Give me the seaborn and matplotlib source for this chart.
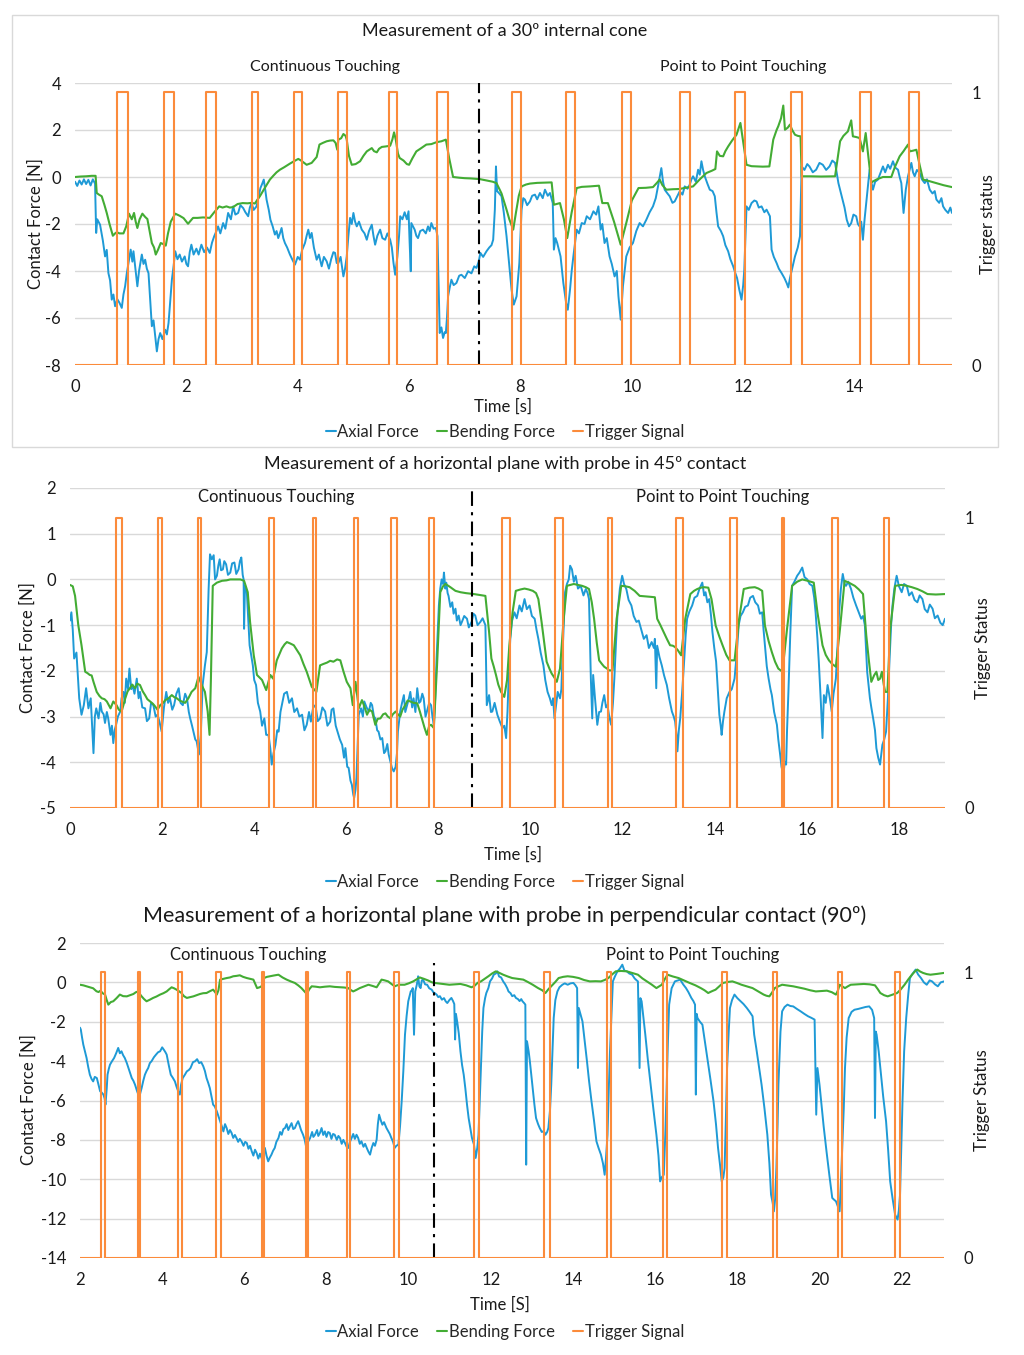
import matplotlib.pyplot as plt
import numpy as np
import seaborn as sns
from matplotlib.lines import Line2D
from matplotlib.patches import Rectangle

sns.set_theme(style='white')
plt.rcParams['font.family'] = ['Lato', 'DejaVu Sans']
plt.rcParams['axes.unicode_minus'] = False

BLUE = '#1e9ad6'
GREEN = '#43ac34'
ORANGE = '#fb8b3b'
GRID = '#d9d9d9'
TEXT = '#1a1a1a'

# ---- Panel 1: 30º internal cone ----
p1_axial = [
    (0.00, -0.20), (0.04, -0.38), (0.08, -0.15), (0.12, -0.32), (0.16, -0.10), (0.20, -0.30),
    (0.24, -0.12), (0.28, -0.36), (0.32, -0.10), (0.36, -0.28), (0.38, -2.38), (0.40, -1.80),
    (0.45, -2.03), (0.50, -2.70), (0.54, -3.38), (0.57, -3.10), (0.60, -4.09), (0.63, -4.40),
    (0.66, -5.22), (0.69, -5.00), (0.72, -5.50), (0.76, -5.20), (0.80, -5.36), (0.84, -5.57),
    (0.87, -5.00), (0.90, -4.65), (0.93, -4.10), (0.96, -3.66), (1.00, -3.09), (1.03, -3.60),
    (1.05, -3.16), (1.08, -3.80), (1.12, -4.65), (1.15, -4.00), (1.20, -3.30), (1.23, -3.70),
    (1.26, -3.52), (1.29, -3.90), (1.32, -4.09), (1.35, -5.20), (1.38, -6.35), (1.41, -6.10),
    (1.44, -6.78), (1.47, -7.42), (1.50, -6.90), (1.53, -6.64), (1.57, -6.90), (1.62, -6.50),
    (1.65, -6.70), (1.68, -6.21), (1.71, -5.30), (1.74, -4.37), (1.77, -3.80), (1.80, -3.16),
    (1.84, -3.50), (1.88, -3.30), (1.92, -3.60), (1.97, -3.38), (2.00, -3.70), (2.03, -3.80),
    (2.06, -3.20), (2.09, -2.88), (2.13, -3.30), (2.18, -3.05), (2.22, -3.30), (2.27, -2.88),
    (2.32, -3.20), (2.37, -3.00), (2.42, -3.23), (2.46, -2.80), (2.50, -2.52), (2.54, -2.30),
    (2.57, -2.10), (2.61, -2.40), (2.66, -1.96), (2.70, -2.20), (2.75, -1.53), (2.80, -1.80),
    (2.84, -1.25), (2.88, -1.60), (2.93, -1.53), (2.97, -1.20), (3.02, -1.32), (3.06, -1.50),
    (3.11, -1.67), (3.14, -1.30), (3.17, -1.11), (3.21, -1.40), (3.26, -1.25), (3.30, -0.80),
    (3.33, -0.47), (3.36, -0.30), (3.39, -0.11), (3.42, -0.60), (3.44, -0.96), (3.48, -1.40),
    (3.51, -1.82), (3.55, -2.10), (3.59, -2.45), (3.62, -2.30), (3.65, -2.60), (3.68, -2.40),
    (3.71, -2.17), (3.74, -2.60), (3.77, -2.81), (3.81, -3.00), (3.86, -3.30), (3.90, -3.50),
    (3.95, -3.73), (4.00, -3.40), (4.04, -3.52), (4.08, -3.10), (4.13, -2.81), (4.16, -2.50),
    (4.19, -2.24), (4.22, -2.60), (4.25, -2.38), (4.29, -3.00), (4.34, -3.52), (4.38, -3.30),
    (4.43, -3.80), (4.47, -3.40), (4.52, -3.59), (4.56, -3.90), (4.60, -3.50), (4.64, -3.20),
    (4.67, -3.23), (4.70, -3.66), (4.73, -3.66), (4.77, -3.40), (4.82, -4.23), (4.85, -3.90),
    (4.88, -3.38), (4.91, -2.50), (4.94, -1.74), (4.97, -2.00), (5.00, -1.53), (5.03, -1.90),
    (5.06, -2.10), (5.10, -1.90), (5.15, -2.24), (5.20, -2.40), (5.24, -2.67), (5.28, -2.30),
    (5.33, -2.03), (5.36, -2.50), (5.39, -2.88), (5.43, -2.50), (5.48, -2.24), (5.52, -2.60),
    (5.57, -2.67), (5.61, -2.40), (5.66, -2.67), (5.69, -3.00), (5.72, -3.66), (5.75, -4.16),
    (5.79, -3.38), (5.82, -2.50), (5.84, -1.67), (5.88, -1.80), (5.92, -1.50), (5.96, -1.80),
    (5.99, -1.46), (6.01, -2.81), (6.03, -4.01), (6.04, -1.96), (6.07, -2.10), (6.10, -2.24),
    (6.13, -2.50), (6.16, -2.60), (6.20, -2.30), (6.25, -2.24), (6.30, -2.40), (6.34, -2.10),
    (6.37, -2.30), (6.40, -1.96), (6.44, -2.20), (6.48, -2.17), (6.51, -2.52), (6.53, -4.50),
    (6.55, -6.64), (6.58, -6.40), (6.61, -6.85), (6.64, -6.60), (6.66, -6.64), (6.68, -6.00),
    (6.70, -5.08), (6.73, -4.70), (6.76, -4.37), (6.80, -4.60), (6.85, -4.51), (6.90, -4.20),
    (6.94, -4.16), (7.00, -4.30), (7.06, -4.01), (7.12, -4.10), (7.17, -3.80), (7.21, -3.87),
    (7.25, -3.60), (7.28, -3.23), (7.33, -3.40), (7.39, -3.16), (7.44, -3.00), (7.48, -2.90),
    (7.51, -2.67), (7.54, -1.39), (7.56, 0.45), (7.58, -0.60), (7.62, -0.70), (7.66, -0.82),
    (7.70, -1.50), (7.75, -2.52), (7.80, -3.80), (7.84, -4.79), (7.88, -5.43), (7.93, -5.08),
    (7.98, -3.66), (8.02, -1.39), (8.05, -0.90), (8.08, -0.96), (8.12, -1.20), (8.17, -1.04),
    (8.21, -0.80), (8.26, -0.75), (8.30, -0.95), (8.35, -0.68), (8.40, -0.90), (8.44, -0.54),
    (8.49, -0.80), (8.53, -0.68), (8.58, -1.11), (8.60, -3.09), (8.63, -2.60), (8.66, -2.81),
    (8.69, -3.10), (8.72, -3.38), (8.77, -4.51), (8.82, -5.36), (8.85, -5.65), (8.89, -4.79),
    (8.92, -4.00), (8.95, -3.38), (9.01, -2.24), (9.05, -2.40), (9.10, -1.96), (9.15, -2.00),
    (9.19, -1.67), (9.25, -1.80), (9.31, -1.46), (9.36, -1.60), (9.40, -1.25), (9.44, -2.24),
    (9.47, -2.00), (9.51, -2.81), (9.55, -2.60), (9.60, -3.38), (9.64, -3.70), (9.69, -4.23),
    (9.73, -4.00), (9.76, -5.08), (9.80, -6.07), (9.84, -4.65), (9.87, -4.00), (9.90, -3.38),
    (9.96, -3.00), (10.02, -2.81), (10.08, -2.30), (10.14, -1.96), (10.20, -2.10), (10.26, -1.82),
    (10.32, -1.50), (10.38, -1.25), (10.43, -0.90), (10.47, -0.40), (10.53, 0.38), (10.56, -0.20),
    (10.59, -0.54), (10.64, -0.70), (10.68, -0.82), (10.73, -1.10), (10.77, -1.04), (10.82, -0.80),
    (10.86, -0.61), (10.91, -0.75), (10.95, -0.40), (11.00, -0.50), (11.04, -0.33), (11.07, -0.10),
    (11.10, 0.03), (11.15, -0.20), (11.19, 0.31), (11.22, 0.10), (11.25, 0.67), (11.28, 0.30),
    (11.31, 0.03), (11.36, -0.30), (11.40, -0.54), (11.45, -0.60), (11.49, -0.82), (11.52, -1.50),
    (11.55, -2.10), (11.60, -2.30), (11.64, -2.52), (11.68, -2.90), (11.73, -3.16), (11.77, -3.50),
    (11.82, -3.80), (11.86, -4.10), (11.89, -4.30), (11.93, -4.80), (11.97, -5.22), (12.00, -4.60),
    (12.02, -3.94), (12.06, -1.25), (12.10, -1.40), (12.15, -1.11), (12.20, -1.00), (12.24, -1.04),
    (12.28, -1.30), (12.33, -1.25), (12.38, -1.50), (12.42, -1.39), (12.48, -1.67), (12.51, -3.09),
    (12.55, -3.40), (12.60, -3.66), (12.64, -3.90), (12.69, -4.09), (12.74, -4.30), (12.78, -4.51),
    (12.81, -4.70), (12.84, -4.30), (12.88, -3.90), (12.93, -3.38), (12.98, -3.00), (13.02, -2.52),
    (13.05, 0.45), (13.10, 0.30), (13.15, 0.55), (13.19, 0.45), (13.25, 0.20), (13.31, 0.31),
    (13.37, 0.60), (13.43, 0.52), (13.49, 0.30), (13.55, 0.45), (13.60, 0.70), (13.65, 0.60),
    (13.71, -0.26), (13.77, -0.82), (13.82, -1.30), (13.86, -1.82), (13.90, -2.10), (13.94, -1.96),
    (13.98, -1.60), (14.03, -1.67), (14.06, -2.00), (14.09, -2.10), (14.12, -1.90), (14.15, -2.67),
    (14.18, -1.80), (14.21, -1.11), (14.24, -0.40), (14.27, 0.31), (14.30, -0.20), (14.33, -0.54),
    (14.37, -0.20), (14.42, -0.11), (14.47, 0.20), (14.51, 0.45), (14.55, 0.20), (14.60, 0.52),
    (14.64, 0.35), (14.69, 0.67), (14.73, 0.40), (14.78, 0.31), (14.81, 0.00), (14.84, -0.26),
    (14.88, -1.53), (14.92, -0.54), (14.96, 0.03), (15.02, 0.60), (15.05, 0.20), (15.08, 0.03),
    (15.12, 0.30), (15.17, 0.17), (15.21, -0.10), (15.26, -0.26), (15.30, -0.10), (15.35, -0.54),
    (15.40, -0.70), (15.44, -0.60), (15.47, -0.96), (15.52, -1.10), (15.56, -0.90), (15.59, -1.25),
    (15.63, -1.40), (15.68, -1.53), (15.72, -1.30), (15.75, -1.53),
]
p1_bending = [
    (0.00, 0.00), (0.10, 0.02), (0.20, 0.03), (0.30, 0.05), (0.37, 0.05), (0.39, -0.68),
    (0.43, -0.75), (0.48, -0.82), (0.53, -1.20), (0.57, -1.53), (0.62, -2.00), (0.68, -2.50),
    (0.72, -2.40), (0.75, -2.35), (0.80, -2.40), (0.87, -2.40), (0.92, -2.10), (0.97, -1.56),
    (1.02, -1.80), (1.06, -1.53), (1.09, -1.90), (1.12, -2.17), (1.16, -1.80), (1.21, -1.56),
    (1.26, -1.70), (1.30, -1.79), (1.34, -2.30), (1.38, -2.81), (1.42, -3.00), (1.45, -3.30),
    (1.49, -3.10), (1.54, -2.81), (1.58, -2.85), (1.63, -2.92), (1.67, -2.40), (1.72, -1.90),
    (1.80, -1.56), (1.88, -1.65), (1.95, -1.75), (2.03, -1.99), (2.08, -1.85), (2.12, -1.74),
    (2.20, -1.74), (2.30, -1.72), (2.42, -1.74), (2.50, -1.50), (2.59, -1.25), (2.65, -1.30),
    (2.72, -1.25), (2.78, -1.30), (2.84, -1.28), (2.92, -1.15), (3.01, -1.11), (3.10, -1.12),
    (3.17, -1.10), (3.23, -1.13), (3.28, -0.95), (3.32, -0.82), (3.40, -0.50), (3.50, -0.11),
    (3.56, 0.05), (3.62, 0.20), (3.68, 0.31), (3.76, 0.42), (3.86, 0.57), (3.94, 0.68),
    (4.01, 0.77), (4.06, 0.70), (4.16, 0.52), (4.25, 0.60), (4.34, 0.85), (4.39, 1.38),
    (4.45, 1.45), (4.52, 1.52), (4.58, 1.55), (4.64, 1.56), (4.68, 1.45), (4.71, 1.16),
    (4.73, 1.59), (4.78, 1.65), (4.82, 1.83), (4.86, 1.75), (4.88, 1.59), (4.92, 0.90),
    (4.97, 0.52), (5.04, 0.55), (5.12, 0.67), (5.18, 0.90), (5.24, 1.09), (5.28, 1.15),
    (5.33, 1.23), (5.37, 1.10), (5.42, 1.05), (5.46, 1.20), (5.51, 1.28), (5.58, 1.30),
    (5.66, 1.33), (5.70, 1.60), (5.73, 1.90), (5.76, 1.60), (5.80, 1.00), (5.83, 0.81),
    (5.90, 0.70), (5.96, 0.55), (6.00, 0.52), (6.06, 0.80), (6.13, 1.09), (6.20, 1.20),
    (6.31, 1.38), (6.40, 1.40), (6.49, 1.48), (6.58, 1.52), (6.66, 1.59), (6.72, 0.80),
    (6.79, 0.00), (6.90, -0.03), (7.00, -0.05), (7.10, -0.06), (7.27, -0.09), (7.40, -0.15),
    (7.50, -0.20), (7.57, -0.26), (7.66, -0.70), (7.75, -1.39), (7.80, -1.80), (7.87, -2.24),
    (7.92, -1.50), (7.97, -0.80), (8.02, -0.40), (8.10, -0.32), (8.17, -0.28), (8.30, -0.25),
    (8.45, -0.24), (8.56, -0.23), (8.60, -1.18), (8.71, -1.11), (8.78, -1.80), (8.84, -2.60),
    (8.92, -1.50), (9.01, -0.47), (9.10, -0.42), (9.25, -0.40), (9.41, -0.37), (9.47, -1.11),
    (9.57, -1.11), (9.68, -1.90), (9.80, -2.88), (9.90, -1.96), (10.00, -1.00), (10.12, -0.47),
    (10.25, -0.46), (10.38, -0.43), (10.45, -0.25), (10.50, -0.11), (10.55, -0.35), (10.62, -0.54),
    (10.74, -0.52), (10.86, -0.51), (10.98, -0.45), (11.10, -0.40), (11.22, -0.10), (11.34, 0.17),
    (11.44, 0.27), (11.50, 0.34), (11.53, 1.09), (11.58, 0.90), (11.64, 0.88), (11.68, 1.10),
    (11.73, 1.30), (11.80, 1.55), (11.88, 1.80), (11.95, 2.30), (12.00, 1.50), (12.06, 0.52),
    (12.15, 0.46), (12.24, 0.45), (12.35, 0.44), (12.47, 0.45), (12.54, 1.59), (12.60, 2.00),
    (12.63, 2.16), (12.68, 2.50), (12.72, 3.04), (12.75, 2.01), (12.80, 2.10), (12.84, 2.23),
    (12.88, 2.00), (12.93, 1.80), (12.98, 1.75), (13.03, 1.73), (13.05, 0.03), (13.20, 0.03),
    (13.40, 0.02), (13.65, 0.03), (13.74, 1.52), (13.80, 1.75), (13.88, 1.94), (13.94, 2.41),
    (13.97, 1.73), (14.03, 1.70), (14.09, 1.66), (14.15, 1.09), (14.20, 1.87), (14.25, 0.80),
    (14.30, -0.23), (14.40, -0.10), (14.51, 0.00), (14.66, 0.00), (14.72, 0.40), (14.81, 0.88),
    (14.88, 1.10), (14.96, 1.38), (14.99, 1.09), (15.05, 1.12), (15.11, 1.16), (15.17, 0.50),
    (15.23, -0.11), (15.35, -0.18), (15.47, -0.26), (15.60, -0.35), (15.75, -0.43),
]
p1_trig_on = [0.75, 1.59, 2.35, 3.17, 3.94, 4.72, 5.64, 6.50, 7.85, 8.82, 9.83, 10.86, 11.85, 12.86, 14.10, 14.98]
p1_trig_off = [0.95, 1.78, 2.53, 3.28, 4.08, 4.88, 5.79, 6.69, 8.01, 8.98, 9.98, 11.04, 12.03, 13.05, 14.30, 15.16]
p1_split = 7.26

# ---- Panel 2: horizontal plane, probe at 45º ----
p2_axial = [
    (0.00, -0.90), (0.03, -0.72), (0.06, -1.10), (0.09, -1.73), (0.14, -1.60), (0.20, -2.60),
    (0.25, -2.96), (0.30, -2.75), (0.35, -2.38), (0.40, -2.82), (0.45, -2.60), (0.48, -3.20),
    (0.51, -3.80), (0.54, -3.00), (0.57, -2.82), (0.62, -3.04), (0.66, -2.70), (0.69, -2.89),
    (0.73, -2.95), (0.76, -3.14), (0.80, -2.90), (0.83, -3.04), (0.88, -3.40), (0.91, -3.20),
    (0.94, -3.58), (0.97, -3.30), (1.00, -3.18), (1.04, -3.00), (1.09, -2.89), (1.12, -2.60),
    (1.16, -2.46), (1.19, -2.70), (1.22, -2.17), (1.26, -2.40), (1.29, -1.95), (1.33, -2.40),
    (1.36, -2.31), (1.40, -2.50), (1.45, -2.17), (1.49, -2.60), (1.52, -2.46), (1.57, -2.80),
    (1.63, -2.82), (1.67, -3.10), (1.72, -3.04), (1.76, -2.70), (1.81, -2.75), (1.86, -3.00),
    (1.90, -2.96), (1.94, -3.10), (1.99, -3.33), (2.04, -2.80), (2.09, -2.46), (2.13, -2.70),
    (2.17, -2.60), (2.22, -2.85), (2.26, -2.75), (2.31, -2.50), (2.36, -2.38), (2.40, -2.70),
    (2.45, -2.75), (2.50, -2.50), (2.54, -2.60), (2.58, -2.90), (2.61, -3.04), (2.65, -3.20),
    (2.68, -3.33), (2.72, -3.50), (2.75, -3.54), (2.80, -3.83), (2.84, -3.40), (2.88, -2.31),
    (2.93, -1.88), (2.97, -1.59), (3.01, -0.21), (3.04, 0.55), (3.08, 0.44), (3.12, 0.53),
    (3.15, 0.00), (3.19, 0.08), (3.22, 0.30), (3.25, 0.44), (3.28, 0.20), (3.32, 0.22),
    (3.35, 0.40), (3.39, 0.33), (3.43, 0.10), (3.48, 0.15), (3.52, 0.35), (3.57, 0.37),
    (3.61, 0.12), (3.66, 0.22), (3.69, 0.40), (3.72, 0.48), (3.75, 0.10), (3.77, 0.00),
    (3.78, -1.08), (3.80, -0.14), (3.84, -0.28), (3.90, -1.44), (3.97, -1.88), (4.00, -2.20),
    (4.04, -2.31), (4.08, -2.70), (4.13, -2.89), (4.17, -3.20), (4.22, -3.04), (4.26, -3.40),
    (4.31, -3.40), (4.35, -3.70), (4.38, -4.05), (4.42, -3.80), (4.46, -3.62), (4.50, -3.30),
    (4.53, -3.33), (4.57, -2.90), (4.60, -2.75), (4.65, -2.50), (4.71, -2.46), (4.76, -2.70),
    (4.82, -2.60), (4.87, -2.90), (4.93, -2.82), (4.98, -3.00), (5.04, -2.96), (5.09, -3.30),
    (5.14, -3.18), (5.19, -2.90), (5.23, -3.11), (5.28, -2.80), (5.33, -2.75), (5.38, -3.10),
    (5.43, -3.04), (5.48, -2.80), (5.54, -2.89), (5.59, -3.20), (5.65, -3.11), (5.68, -2.85),
    (5.72, -2.82), (5.77, -3.20), (5.81, -3.33), (5.86, -3.50), (5.91, -3.62), (5.95, -3.90),
    (5.98, -3.69), (6.02, -4.10), (6.05, -4.12), (6.09, -4.40), (6.12, -4.49), (6.15, -4.70),
    (6.17, -4.78), (6.20, -4.60), (6.22, -4.34), (6.25, -3.50), (6.27, -2.96), (6.32, -2.82),
    (6.36, -3.00), (6.39, -2.67), (6.44, -2.80), (6.49, -2.89), (6.53, -2.70), (6.56, -2.75),
    (6.60, -3.00), (6.63, -3.04), (6.67, -3.30), (6.70, -3.33), (6.74, -3.50), (6.78, -3.47),
    (6.82, -3.80), (6.85, -3.76), (6.89, -3.60), (6.92, -3.83), (6.96, -4.00), (6.99, -4.12),
    (7.03, -4.20), (7.07, -4.10), (7.10, -3.80), (7.12, -3.33), (7.17, -2.89), (7.21, -2.70),
    (7.25, -2.53), (7.28, -2.90), (7.32, -2.75), (7.36, -2.60), (7.39, -2.46), (7.43, -2.80),
    (7.46, -2.60), (7.50, -2.90), (7.54, -2.38), (7.58, -2.70), (7.61, -2.67), (7.65, -2.50),
    (7.68, -2.60), (7.72, -3.00), (7.75, -2.89), (7.80, -2.70), (7.84, -2.75), (7.87, -3.00),
    (7.90, -3.18), (7.93, -2.60), (7.96, -1.73), (8.01, -0.57), (8.04, -0.20), (8.07, 0.00),
    (8.10, -0.10), (8.12, 0.15), (8.15, -0.20), (8.17, -0.07), (8.20, -0.30), (8.22, -0.36),
    (8.26, -0.60), (8.30, -0.50), (8.33, -0.75), (8.37, -0.64), (8.40, -0.90), (8.44, -0.79),
    (8.48, -1.00), (8.51, -0.93), (8.56, -0.80), (8.62, -0.86), (8.66, -1.05), (8.72, -0.93),
    (8.76, -0.75), (8.80, -0.79), (8.85, -1.00), (8.91, -0.93), (8.96, -0.85), (9.02, -1.00),
    (9.05, -2.75), (9.10, -2.53), (9.14, -2.90), (9.17, -2.89), (9.22, -2.70), (9.28, -2.96),
    (9.33, -3.10), (9.39, -3.25), (9.43, -3.20), (9.47, -3.47), (9.50, -2.89), (9.53, -2.00),
    (9.56, -1.30), (9.60, -0.90), (9.65, -0.72), (9.70, -0.85), (9.76, -0.57), (9.81, -0.70),
    (9.87, -0.43), (9.92, -0.65), (9.98, -0.57), (10.03, -0.80), (10.09, -0.86), (10.13, -1.10),
    (10.17, -1.30), (10.22, -1.60), (10.28, -1.88), (10.32, -2.20), (10.37, -2.46), (10.42, -2.60),
    (10.46, -2.75), (10.49, -2.60), (10.52, -3.04), (10.56, -2.70), (10.59, -2.46), (10.64, -2.60),
    (10.67, -2.40), (10.70, -1.50), (10.75, -0.28), (10.79, -0.10), (10.83, 0.00), (10.86, 0.30),
    (10.90, 0.22), (10.94, -0.05), (10.98, 0.08), (11.03, -0.20), (11.09, -0.14), (11.15, -0.35),
    (11.20, -0.21), (11.24, -0.30), (11.27, -0.43), (11.31, -2.17), (11.34, -3.04), (11.36, -2.09),
    (11.40, -2.60), (11.45, -3.18), (11.49, -2.90), (11.53, -2.89), (11.56, -2.70), (11.60, -2.53),
    (11.64, -2.80), (11.67, -2.75), (11.71, -3.00), (11.75, -3.18), (11.79, -2.70), (11.82, -2.17),
    (11.86, -1.30), (11.89, -0.72), (11.94, -0.20), (11.99, 0.08), (12.03, -0.10), (12.08, -0.21),
    (12.13, -0.45), (12.19, -0.57), (12.24, -0.80), (12.30, -0.93), (12.35, -0.90), (12.40, -1.08),
    (12.46, -1.30), (12.52, -1.22), (12.57, -1.50), (12.63, -1.37), (12.68, -1.50), (12.70, -1.30),
    (12.73, -2.38), (12.75, -1.45), (12.80, -1.70), (12.85, -1.88), (12.90, -2.10), (12.96, -2.31),
    (13.01, -2.60), (13.07, -2.89), (13.11, -3.00), (13.14, -3.11), (13.17, -3.40), (13.19, -3.76),
    (13.22, -3.30), (13.25, -3.04), (13.29, -2.50), (13.33, -1.88), (13.37, -1.20), (13.40, -0.86),
    (13.45, -0.70), (13.51, -0.57), (13.56, -0.40), (13.62, -0.36), (13.67, -0.20), (13.73, -0.07),
    (13.77, -0.35), (13.80, -0.28), (13.84, -0.50), (13.88, -0.43), (13.92, -0.80), (13.95, -1.15),
    (13.99, -1.50), (14.03, -1.80), (14.06, -2.30), (14.10, -2.96), (14.13, -3.20), (14.15, -3.40),
    (14.18, -3.10), (14.21, -2.89), (14.26, -2.60), (14.32, -2.46), (14.37, -2.40), (14.43, -2.17),
    (14.48, -1.60), (14.52, -1.00), (14.56, -0.80), (14.61, -0.72), (14.66, -0.60), (14.72, -0.57),
    (14.77, -0.40), (14.83, -0.36), (14.88, -0.50), (14.94, -0.57), (14.98, -0.75), (15.03, -0.72),
    (15.06, -1.10), (15.09, -1.44), (15.13, -1.90), (15.17, -2.17), (15.21, -2.40), (15.24, -2.53),
    (15.29, -2.90), (15.35, -3.18), (15.38, -3.50), (15.42, -3.83), (15.45, -4.10), (15.49, -4.27),
    (15.52, -4.00), (15.55, -4.05), (15.57, -3.30), (15.60, -2.46), (15.64, -1.20), (15.68, -0.14),
    (15.73, -0.05), (15.79, 0.08), (15.84, 0.15), (15.90, 0.26), (15.95, 0.05), (16.01, 0.00),
    (16.06, -0.10), (16.12, -0.14), (16.16, -0.40), (16.19, -0.72), (16.23, -1.30), (16.26, -1.80),
    (16.30, -2.60), (16.34, -3.47), (16.37, -2.53), (16.41, -2.70), (16.45, -2.31), (16.50, -2.60),
    (16.54, -2.89), (16.58, -2.50), (16.63, -2.17), (16.67, -1.40), (16.70, -0.72), (16.74, -0.20),
    (16.78, 0.12), (16.82, -0.10), (16.85, -0.14), (16.90, -0.05), (16.96, -0.21), (17.01, -0.40),
    (17.07, -0.57), (17.12, -0.70), (17.18, -0.86), (17.22, -0.80), (17.26, -1.00), (17.31, -2.02),
    (17.34, -2.30), (17.37, -2.60), (17.40, -2.80), (17.44, -3.04), (17.48, -3.30), (17.51, -3.69),
    (17.55, -3.90), (17.59, -4.05), (17.62, -3.80), (17.64, -3.62), (17.68, -3.50), (17.72, -3.33),
    (17.76, -2.60), (17.79, -1.88), (17.83, -1.00), (17.86, -0.57), (17.90, -0.20), (17.95, 0.08),
    (18.00, -0.15), (18.06, -0.28), (18.11, -0.10), (18.17, -0.14), (18.22, -0.35), (18.28, -0.28),
    (18.34, -0.45), (18.40, -0.50), (18.45, -0.35), (18.51, -0.43), (18.56, -0.65), (18.62, -0.72),
    (18.67, -0.55), (18.73, -0.64), (18.78, -0.85), (18.84, -0.79), (18.90, -0.95), (18.95, -1.00),
    (19.00, -0.86),
]
p2_bending = [
    (0.00, -0.12), (0.06, -0.15), (0.11, -0.36), (0.18, -1.00), (0.25, -1.44), (0.33, -2.02),
    (0.38, -2.05), (0.43, -2.09), (0.47, -2.10), (0.51, -2.24), (0.58, -2.46), (0.64, -2.55),
    (0.69, -2.60), (0.75, -2.62), (0.80, -2.67), (0.88, -2.82), (0.94, -2.67), (1.01, -2.75),
    (1.06, -2.85), (1.12, -2.89), (1.16, -2.75), (1.20, -2.60), (1.25, -2.45), (1.30, -2.38),
    (1.35, -2.30), (1.41, -2.38), (1.46, -2.28), (1.52, -2.31), (1.58, -2.45), (1.63, -2.53),
    (1.68, -2.62), (1.74, -2.67), (1.80, -2.72), (1.85, -2.78), (1.90, -2.85), (1.96, -2.75),
    (2.02, -2.70), (2.07, -2.64), (2.14, -2.60), (2.21, -2.53), (2.27, -2.58), (2.32, -2.60),
    (2.38, -2.65), (2.43, -2.67), (2.50, -2.70), (2.57, -2.60), (2.64, -2.46), (2.72, -2.38),
    (2.79, -2.13), (2.86, -2.31), (2.93, -2.46), (2.99, -2.89), (3.03, -3.40), (3.06, -2.17),
    (3.10, -0.14), (3.19, -0.07), (3.30, -0.03), (3.40, -0.02), (3.48, 0.00), (3.60, 0.00),
    (3.70, 0.00), (3.78, -0.03), (3.86, -0.28), (3.91, -0.93), (3.99, -1.66), (4.06, -2.09),
    (4.12, -2.15), (4.17, -2.20), (4.26, -2.42), (4.35, -2.09), (4.41, -2.17), (4.49, -1.77),
    (4.60, -1.51), (4.66, -1.42), (4.71, -1.37), (4.78, -1.40), (4.86, -1.44), (4.93, -1.55),
    (5.00, -1.66), (5.07, -1.85), (5.14, -2.02), (5.20, -2.20), (5.25, -2.35), (5.35, -2.46),
    (5.40, -2.10), (5.43, -1.88), (5.50, -1.85), (5.58, -1.82), (5.65, -1.78), (5.72, -1.80),
    (5.80, -1.75), (5.87, -1.77), (5.94, -2.02), (6.01, -2.24), (6.09, -2.38), (6.14, -2.75),
    (6.20, -2.24), (6.27, -2.82), (6.34, -2.64), (6.40, -2.80), (6.45, -2.96), (6.50, -2.85),
    (6.56, -2.89), (6.63, -3.18), (6.68, -3.05), (6.74, -3.04), (6.80, -2.95), (6.85, -2.93),
    (6.90, -3.00), (6.96, -3.04), (7.01, -2.95), (7.07, -2.89), (7.12, -2.95), (7.17, -3.00),
    (7.22, -2.85), (7.28, -2.75), (7.33, -2.65), (7.39, -2.67), (7.46, -2.70), (7.54, -2.71),
    (7.60, -2.90), (7.64, -3.04), (7.70, -3.25), (7.75, -3.40), (7.80, -3.20), (7.84, -3.18),
    (7.90, -3.25), (7.97, -1.88), (8.04, -0.28), (8.10, -0.15), (8.15, -0.10), (8.20, -0.13),
    (8.26, -0.17), (8.37, -0.25), (8.48, -0.28), (8.60, -0.30), (8.77, -0.32), (8.90, -0.34),
    (9.02, -0.36), (9.10, -1.15), (9.15, -1.73), (9.20, -1.90), (9.25, -2.09), (9.30, -2.30),
    (9.36, -2.46), (9.43, -2.57), (9.49, -2.20), (9.54, -1.44), (9.61, -0.72), (9.68, -0.25),
    (9.78, -0.22), (9.87, -0.20), (9.96, -0.22), (10.05, -0.25), (10.12, -0.30), (10.17, -0.43),
    (10.24, -0.93), (10.30, -1.40), (10.35, -1.80), (10.41, -1.95), (10.46, -2.06), (10.52, -2.15),
    (10.57, -2.24), (10.64, -1.95), (10.72, -0.86), (10.79, -0.14), (10.87, -0.12), (10.94, -0.10),
    (11.03, -0.12), (11.12, -0.14), (11.20, -0.17), (11.27, -0.21), (11.33, -0.50), (11.38, -0.86),
    (11.44, -1.40), (11.49, -1.77), (11.55, -1.85), (11.60, -1.91), (11.66, -1.95), (11.71, -1.99),
    (11.78, -1.99), (11.87, -0.86), (11.97, -0.14), (12.06, -0.15), (12.15, -0.17), (12.26, -0.25),
    (12.37, -0.36), (12.50, -0.37), (12.60, -0.38), (12.70, -0.39), (12.75, -0.86), (12.82, -1.00),
    (12.89, -1.15), (12.96, -1.30), (13.03, -1.44), (13.09, -1.45), (13.14, -1.48), (13.20, -1.55),
    (13.27, -1.66), (13.36, -0.86), (13.47, -0.32), (13.55, -0.25), (13.62, -0.21), (13.70, -0.18),
    (13.77, -0.17), (13.86, -0.18), (13.93, -0.43), (14.02, -1.01), (14.10, -1.25), (14.17, -1.44),
    (14.25, -1.65), (14.32, -1.77), (14.43, -1.77), (14.53, -0.86), (14.63, -0.21), (14.75, -0.18),
    (14.87, -0.17), (14.95, -0.20), (15.03, -0.25), (15.09, -1.01), (15.17, -1.35), (15.24, -1.59),
    (15.31, -1.80), (15.38, -1.95), (15.47, -2.02), (15.57, -1.08), (15.68, -0.14), (15.79, -0.05),
    (15.90, 0.00), (16.02, -0.03), (16.15, -0.07), (16.23, -0.72), (16.34, -1.44), (16.41, -1.65),
    (16.48, -1.77), (16.55, -1.85), (16.63, -1.91), (16.72, -1.08), (16.82, -0.03), (16.93, -0.08),
    (17.04, -0.14), (17.13, -0.22), (17.22, -0.32), (17.29, -1.22), (17.35, -1.80), (17.40, -2.24),
    (17.46, -2.10), (17.51, -2.02), (17.55, -2.20), (17.59, -2.17), (17.63, -2.02), (17.67, -2.30),
    (17.70, -2.46), (17.75, -2.46), (17.81, -1.08), (17.92, -0.14), (18.05, -0.12), (18.17, -0.14),
    (18.28, -0.17), (18.40, -0.21), (18.51, -0.26), (18.62, -0.32), (18.80, -0.33), (19.00, -0.32),
]
p2_trig_on = [1.00, 1.90, 2.79, 4.32, 5.28, 6.16, 6.96, 7.79, 9.39, 10.54, 11.69, 13.16, 14.33, 15.45, 16.55, 17.67]
p2_trig_off = [1.14, 2.00, 2.84, 4.42, 5.35, 6.25, 7.09, 7.91, 9.56, 10.71, 11.78, 13.30, 14.49, 15.51, 16.68, 17.78]
p2_split = 8.72

# ---- Panel 3: horizontal plane, perpendicular probe (90º) ----
p3_axial = [
    (2.00, -2.30), (2.02, -2.40), (2.05, -2.80), (2.08, -3.16), (2.12, -3.50), (2.16, -3.84),
    (2.20, -4.30), (2.24, -4.69), (2.28, -4.90), (2.32, -5.03), (2.36, -4.80), (2.41, -4.86),
    (2.45, -5.20), (2.49, -5.53), (2.53, -5.60), (2.57, -5.70), (2.60, -5.90), (2.62, -6.21),
    (2.65, -5.40), (2.67, -4.69), (2.70, -4.40), (2.73, -4.18), (2.78, -4.00), (2.83, -3.84),
    (2.88, -3.60), (2.93, -3.33), (2.97, -3.60), (3.01, -3.50), (3.05, -3.70), (3.09, -3.84),
    (3.14, -4.10), (3.18, -4.35), (3.22, -4.60), (3.26, -4.86), (3.30, -5.00), (3.34, -5.20),
    (3.37, -5.40), (3.39, -5.53), (3.42, -5.70), (3.44, -5.87), (3.47, -5.60), (3.50, -5.37),
    (3.54, -5.00), (3.58, -4.69), (3.62, -4.50), (3.66, -4.35), (3.70, -4.10), (3.74, -4.01),
    (3.80, -3.80), (3.85, -3.67), (3.90, -3.55), (3.95, -3.50), (4.00, -3.30), (4.04, -3.42),
    (4.08, -3.55), (4.11, -3.67), (4.16, -4.20), (4.21, -4.69), (4.26, -4.85), (4.31, -5.03),
    (4.35, -5.30), (4.39, -5.53), (4.43, -5.70), (4.46, -5.20), (4.50, -4.86), (4.55, -4.70),
    (4.60, -4.52), (4.65, -4.45), (4.69, -4.35), (4.75, -4.05), (4.80, -4.01), (4.85, -3.90),
    (4.90, -4.10), (4.95, -4.05), (5.00, -4.26), (5.04, -4.50), (5.08, -4.86), (5.12, -5.10),
    (5.16, -5.37), (5.20, -5.80), (5.24, -6.21), (5.28, -6.30), (5.33, -6.55), (5.37, -6.80),
    (5.41, -7.06), (5.45, -7.30), (5.49, -7.57), (5.53, -7.20), (5.57, -7.40), (5.61, -7.70),
    (5.65, -7.50), (5.69, -7.65), (5.73, -7.90), (5.77, -7.75), (5.81, -7.91), (5.85, -8.10),
    (5.89, -7.95), (5.93, -8.07), (5.98, -8.30), (6.02, -8.10), (6.06, -8.16), (6.10, -8.45),
    (6.14, -8.30), (6.18, -8.58), (6.22, -8.80), (6.26, -8.50), (6.30, -8.67), (6.34, -8.95),
    (6.38, -8.70), (6.42, -8.92), (6.46, -8.60), (6.50, -8.41), (6.54, -8.80), (6.58, -9.09),
    (6.62, -8.90), (6.66, -8.75), (6.70, -8.55), (6.74, -8.41), (6.78, -8.10), (6.83, -7.91),
    (6.87, -7.60), (6.91, -7.74), (6.95, -7.45), (6.99, -7.40), (7.03, -7.20), (7.07, -7.50),
    (7.11, -7.31), (7.15, -7.15), (7.19, -7.45), (7.23, -7.40), (7.27, -7.20), (7.31, -7.05),
    (7.34, -7.23), (7.38, -7.50), (7.43, -7.74), (7.47, -8.00), (7.51, -8.41), (7.55, -8.10),
    (7.60, -7.91), (7.65, -7.60), (7.68, -7.85), (7.72, -7.74), (7.77, -7.50), (7.80, -7.80),
    (7.84, -7.65), (7.88, -7.40), (7.92, -7.75), (7.96, -7.57), (8.00, -7.85), (8.04, -7.60),
    (8.08, -7.65), (8.12, -7.95), (8.16, -7.70), (8.20, -7.74), (8.25, -8.00), (8.29, -7.80),
    (8.33, -7.91), (8.37, -8.20), (8.41, -8.00), (8.45, -8.16), (8.49, -8.35), (8.53, -8.41),
    (8.57, -8.10), (8.61, -7.91), (8.65, -7.70), (8.69, -7.95), (8.73, -7.74), (8.77, -7.90),
    (8.81, -8.20), (8.85, -8.07), (8.90, -8.35), (8.94, -8.20), (8.98, -8.41), (9.02, -8.60),
    (9.06, -8.75), (9.10, -8.40), (9.14, -8.16), (9.18, -8.30), (9.22, -7.99), (9.25, -7.20),
    (9.28, -6.72), (9.32, -7.00), (9.36, -7.23), (9.40, -7.10), (9.46, -7.40), (9.50, -7.55),
    (9.54, -7.70), (9.58, -7.91), (9.62, -8.10), (9.66, -8.41), (9.70, -8.30), (9.75, -8.24),
    (9.79, -7.30), (9.83, -6.04), (9.87, -4.50), (9.91, -2.66), (9.95, -1.70), (9.99, -0.96),
    (10.02, -0.70), (10.05, -0.46), (10.08, -0.40), (10.10, -0.29), (10.13, -2.66), (10.16, -0.46),
    (10.20, -0.10), (10.23, 0.31), (10.26, -0.20), (10.29, -0.29), (10.32, 0.10), (10.35, 0.14),
    (10.40, -0.10), (10.45, -0.12), (10.50, -0.30), (10.56, -0.37), (10.60, -0.50), (10.63, -0.54),
    (10.68, -0.62), (10.72, -0.75), (10.76, -0.70), (10.81, -0.88), (10.86, -0.80), (10.90, -0.96),
    (10.94, -1.05), (10.99, -0.90), (11.04, -0.79), (11.08, -0.95), (11.11, -1.10), (11.13, -2.90),
    (11.15, -1.60), (11.18, -1.98), (11.22, -2.60), (11.26, -3.50), (11.30, -4.20), (11.34, -4.69),
    (11.38, -5.40), (11.42, -6.21), (11.46, -6.90), (11.50, -7.40), (11.54, -7.90), (11.59, -8.24),
    (11.63, -8.92), (11.67, -8.40), (11.70, -7.74), (11.73, -6.00), (11.76, -4.35), (11.79, -2.50),
    (11.82, -1.30), (11.86, -0.80), (11.89, -0.54), (11.94, -0.29), (11.98, 0.05), (12.03, 0.20),
    (12.07, 0.39), (12.12, 0.45), (12.16, 0.56), (12.20, 0.30), (12.25, 0.25), (12.30, 0.05),
    (12.35, -0.10), (12.40, -0.30), (12.43, -0.46), (12.48, -0.55), (12.52, -0.70), (12.57, -0.65),
    (12.61, -0.79), (12.66, -0.85), (12.70, -0.95), (12.74, -0.85), (12.77, -0.96), (12.81, -1.05),
    (12.84, -1.13), (12.86, -9.26), (12.88, -2.99), (12.92, -3.50), (12.95, -4.01), (13.01, -5.20),
    (13.06, -6.20), (13.10, -6.89), (13.15, -7.20), (13.19, -7.40), (13.24, -7.60), (13.29, -7.55),
    (13.33, -7.74), (13.37, -7.60), (13.40, -7.40), (13.44, -6.50), (13.47, -5.20), (13.50, -3.50),
    (13.53, -1.81), (13.57, -0.90), (13.62, -0.46), (13.67, -0.25), (13.74, -0.12), (13.80, -0.05),
    (13.87, -0.12), (13.94, -0.05), (14.01, -0.03), (14.06, -0.15), (14.10, -0.29), (14.12, -4.35),
    (14.14, -1.30), (14.18, -1.60), (14.23, -1.98), (14.28, -2.90), (14.34, -4.01), (14.39, -5.00),
    (14.45, -6.04), (14.51, -7.00), (14.57, -8.07), (14.62, -8.40), (14.68, -8.75), (14.73, -9.20),
    (14.77, -9.77), (14.80, -9.00), (14.84, -7.74), (14.87, -5.50), (14.90, -3.50), (14.94, -1.50),
    (14.97, 0.05), (15.02, 0.30), (15.08, 0.56), (15.14, 0.70), (15.20, 0.90), (15.25, 0.60),
    (15.31, 0.56), (15.37, 0.45), (15.44, 0.39), (15.50, 0.20), (15.55, 0.10), (15.58, 0.05),
    (15.62, -4.35), (15.64, -0.80), (15.67, -0.96), (15.71, -1.70), (15.76, -2.66), (15.82, -3.90),
    (15.89, -5.20), (15.96, -6.50), (16.03, -7.74), (16.08, -8.80), (16.12, -10.11), (16.16, -9.90),
    (16.21, -9.77), (16.25, -7.50), (16.28, -5.20), (16.31, -3.00), (16.34, -1.13), (16.40, -0.30),
    (16.48, 0.05), (16.55, 0.10), (16.61, 0.14), (16.68, -0.10), (16.75, -0.29), (16.81, -0.50),
    (16.88, -0.79), (16.93, -0.95), (16.97, -1.13), (16.99, -5.70), (17.01, -1.60), (17.03, -1.81),
    (17.09, -2.00), (17.15, -2.15), (17.21, -3.00), (17.28, -4.01), (17.35, -5.00), (17.42, -6.04),
    (17.48, -7.20), (17.53, -8.41), (17.58, -9.30), (17.62, -10.11), (17.66, -9.90), (17.69, -9.43),
    (17.72, -7.00), (17.75, -4.35), (17.79, -2.50), (17.82, -1.30), (17.87, -0.90), (17.93, -0.62),
    (18.00, -0.80), (18.08, -0.96), (18.15, -1.10), (18.23, -1.30), (18.30, -1.50), (18.37, -1.72),
    (18.41, -2.66), (18.46, -3.33), (18.52, -4.20), (18.59, -5.20), (18.66, -6.40), (18.73, -7.74),
    (18.78, -9.20), (18.82, -10.78), (18.86, -11.20), (18.89, -11.63), (18.92, -11.00), (18.95, -9.43),
    (18.98, -7.20), (19.00, -5.20), (19.05, -2.50), (19.09, -1.47), (19.15, -1.25), (19.22, -1.13),
    (19.29, -1.20), (19.36, -1.22), (19.45, -1.35), (19.54, -1.47), (19.63, -1.60), (19.72, -1.72),
    (19.80, -1.80), (19.88, -1.89), (19.92, -6.72), (19.95, -4.35), (20.00, -5.20), (20.04, -6.04),
    (20.10, -7.30), (20.17, -8.58), (20.24, -9.80), (20.31, -10.95), (20.36, -11.05), (20.40, -11.12),
    (20.45, -11.40), (20.49, -11.63), (20.52, -10.20), (20.55, -8.58), (20.59, -6.40), (20.62, -4.35),
    (20.66, -2.80), (20.71, -1.81), (20.78, -1.50), (20.85, -1.39), (20.94, -1.35), (21.03, -1.30),
    (21.12, -1.25), (21.21, -1.22), (21.28, -1.40), (21.33, -1.81), (21.35, -6.89), (21.37, -2.50),
    (21.39, -2.66), (21.44, -3.50), (21.48, -4.35), (21.55, -5.80), (21.62, -7.06), (21.67, -8.50),
    (21.72, -10.11), (21.78, -11.00), (21.84, -11.80), (21.90, -12.05), (21.93, -11.60), (21.96, -10.78),
    (22.00, -7.50), (22.02, -6.04), (22.06, -3.50), (22.11, -1.81), (22.16, -0.60), (22.20, 0.22),
    (22.27, 0.45), (22.34, 0.65), (22.40, 0.40), (22.47, 0.22), (22.54, 0.00), (22.61, -0.12),
    (22.68, 0.10), (22.74, 0.05), (22.81, -0.10), (22.88, -0.20), (22.95, 0.00), (23.03, 0.05),
]
p3_bending = [
    (2.00, -0.12), (2.08, -0.15), (2.16, -0.20), (2.24, -0.25), (2.32, -0.30), (2.40, -0.45),
    (2.45, -0.49), (2.50, -0.42), (2.55, -0.55), (2.61, -0.62), (2.65, -0.90), (2.69, -1.13),
    (2.75, -1.00), (2.81, -0.96), (2.89, -0.80), (2.97, -0.62), (3.05, -0.70), (3.14, -0.71),
    (3.22, -0.65), (3.30, -0.59), (3.36, -0.50), (3.42, -0.46), (3.46, -0.60), (3.50, -0.71),
    (3.56, -0.85), (3.62, -0.96), (3.70, -0.88), (3.78, -0.79), (3.86, -0.72), (3.95, -0.62),
    (4.03, -0.55), (4.11, -0.46), (4.17, -0.35), (4.23, -0.25), (4.29, -0.30), (4.35, -0.37),
    (4.41, -0.45), (4.47, -0.54), (4.53, -0.70), (4.60, -0.79), (4.68, -0.75), (4.76, -0.71),
    (4.84, -0.65), (4.92, -0.59), (5.00, -0.55), (5.08, -0.54), (5.16, -0.45), (5.24, -0.37),
    (5.29, -0.50), (5.33, -0.62), (5.37, -0.40), (5.41, 0.14), (5.49, 0.18), (5.57, 0.22),
    (5.65, 0.25), (5.73, 0.31), (5.81, 0.33), (5.89, 0.36), (5.97, 0.28), (6.06, 0.22),
    (6.14, 0.18), (6.22, 0.14), (6.27, -0.10), (6.31, -0.29), (6.37, -0.25), (6.42, -0.20),
    (6.46, 0.10), (6.48, 0.22), (6.55, 0.28), (6.62, 0.31), (6.72, 0.35), (6.83, 0.39),
    (6.93, 0.25), (7.03, 0.14), (7.13, 0.05), (7.23, -0.03), (7.31, -0.15), (7.39, -0.29),
    (7.46, -0.45), (7.52, -0.59), (7.58, -0.35), (7.64, -0.20), (7.74, -0.22), (7.84, -0.25),
    (7.96, -0.22), (8.08, -0.20), (8.20, -0.23), (8.33, -0.25), (8.43, -0.26), (8.53, -0.29),
    (8.60, -0.40), (8.65, -0.46), (8.73, -0.38), (8.81, -0.29), (8.92, -0.20), (9.02, -0.12),
    (9.12, -0.18), (9.22, -0.25), (9.28, -0.05), (9.34, 0.14), (9.42, 0.10), (9.50, 0.05),
    (9.58, -0.08), (9.66, -0.20), (9.72, -0.15), (9.79, -0.12), (9.90, -0.12), (10.00, -0.05),
    (10.11, 0.05), (10.19, 0.15), (10.27, 0.25), (10.37, 0.18), (10.47, 0.10), (10.57, 0.00),
    (10.63, -0.03), (10.75, -0.06), (10.87, -0.09), (10.99, -0.12), (11.12, -0.10), (11.26, -0.08),
    (11.40, -0.15), (11.53, -0.25), (11.60, -0.18), (11.68, -0.02), (11.76, 0.05), (11.85, 0.18),
    (11.94, 0.31), (12.03, 0.45), (12.12, 0.56), (12.21, 0.48), (12.30, 0.39), (12.41, 0.30),
    (12.52, 0.22), (12.65, 0.18), (12.79, 0.14), (12.90, 0.02), (13.02, -0.12), (13.15, -0.29),
    (13.25, -0.40), (13.33, -0.54), (13.40, -0.35), (13.47, -0.20), (13.56, 0.00), (13.65, 0.22),
    (13.76, 0.28), (13.87, 0.31), (14.00, 0.28), (14.14, 0.22), (14.27, 0.12), (14.41, 0.05),
    (14.55, 0.06), (14.68, 0.05), (14.77, 0.12), (14.86, 0.22), (14.95, 0.40), (15.04, 0.56),
    (15.17, 0.58), (15.31, 0.56), (15.44, 0.48), (15.58, 0.39), (15.69, 0.20), (15.80, 0.05),
    (15.92, -0.12), (16.03, -0.29), (16.10, -0.20), (16.16, -0.12), (16.23, 0.15), (16.30, 0.39),
    (16.43, 0.30), (16.57, 0.22), (16.70, 0.10), (16.84, -0.03), (16.98, -0.15), (17.11, -0.29),
    (17.20, -0.40), (17.29, -0.54), (17.38, -0.45), (17.47, -0.37), (17.56, -0.20), (17.65, -0.03),
    (17.76, 0.02), (17.88, 0.05), (17.99, -0.03), (18.10, -0.12), (18.23, -0.20), (18.37, -0.29),
    (18.50, -0.45), (18.64, -0.62), (18.71, -0.68), (18.78, -0.71), (18.85, -0.50), (18.91, -0.29),
    (19.00, -0.20), (19.09, -0.12), (19.22, -0.16), (19.36, -0.20), (19.50, -0.26), (19.63, -0.32),
    (19.77, -0.40), (19.91, -0.46), (20.05, -0.44), (20.18, -0.42), (20.30, -0.50), (20.40, -0.62),
    (20.45, -0.40), (20.49, -0.12), (20.55, -0.20), (20.62, -0.29), (20.69, -0.20), (20.76, -0.12),
    (20.92, -0.10), (21.08, -0.08), (21.22, -0.10), (21.35, -0.15), (21.42, -0.35), (21.48, -0.54),
    (21.57, -0.65), (21.66, -0.71), (21.78, -0.62), (21.89, -0.54), (21.98, -0.35), (22.07, -0.12),
    (22.16, 0.15), (22.25, 0.39), (22.32, 0.55), (22.38, 0.65), (22.45, 0.55), (22.52, 0.48),
    (22.61, 0.42), (22.70, 0.39), (22.86, 0.43), (23.03, 0.48),
]
p3_trig_on = [2.50, 3.41, 4.39, 5.32, 6.44, 7.49, 8.49, 9.65, 11.60, 13.29, 14.82, 16.18, 17.63, 18.86, 20.44, 21.84]
p3_trig_off = [2.62, 3.47, 4.49, 5.42, 6.48, 7.56, 8.58, 9.76, 11.71, 13.44, 14.93, 16.29, 17.76, 18.97, 20.55, 21.96]
p3_split = 10.61

W, H = 1024, 1355
fig = plt.figure(figsize=(W / 100, H / 100), dpi=100)


def fx(x):
    return x / W


def fy(y):
    return 1 - y / H


def trigger_path(on, off, x0, x1):
    tx, ty = [x0], [0]
    for a, b in zip(on, off):
        tx += [a, a, b, b]
        ty += [0, 1, 1, 0]
    tx.append(x1)
    ty.append(0)
    return tx, ty


def draw_panel(box, axial, bending, on, off, split, xlim, ylim, yticks, xticks, trig_top, split_top):
    left, top, right, bottom = box
    ax = fig.add_axes([fx(left), fy(bottom), fx(right - left), (bottom - top) / H])
    a = np.array(axial)
    b = np.array(bending)
    sns.lineplot(x=a[:, 0], y=a[:, 1], ax=ax, color=BLUE, linewidth=1.4,
                 estimator=None, sort=False, legend=False, zorder=3)
    sns.lineplot(x=b[:, 0], y=b[:, 1], ax=ax, color=GREEN, linewidth=1.5,
                 estimator=None, sort=False, legend=False, zorder=4)
    ax.vlines(split, ylim[0], split_top, colors='black', linestyles=(0, (7, 3, 1.5, 3)),
              linewidth=1.5, zorder=5)
    ax.set_xlim(*xlim)
    ax.set_ylim(*ylim)
    ax.set_yticks(yticks)
    ax.set_xticks(xticks)
    ax.grid(axis='y', color=GRID, linewidth=1)
    ax.grid(axis='x', visible=False)
    for s in ax.spines.values():
        s.set_visible(False)
    ax.tick_params(length=0, labelsize=12, colors=TEXT, pad=10)
    ax.set_xlabel('')
    ax.set_ylabel('')

    ax2 = ax.twinx()
    tx, ty = trigger_path(on, off, xlim[0], xlim[1])
    sns.lineplot(x=tx, y=ty, ax=ax2, color=ORANGE, linewidth=1.5,
                 estimator=None, sort=False, legend=False)
    ax2.set_ylim(0, trig_top)
    ax2.set_yticks([0, 1])
    ax2.set_xlim(*xlim)
    ax2.grid(False)
    for s in ax2.spines.values():
        s.set_visible(False)
    ax2.tick_params(length=0, labelsize=12, colors=TEXT, pad=14)
    ax2.set_ylabel('')
    return ax, ax2


def legend_at(y):
    handles = [Line2D([], [], color=BLUE, lw=1.5), Line2D([], [], color=GREEN, lw=1.5),
               Line2D([], [], color=ORANGE, lw=1.5)]
    fig.legend(handles, ['Axial Force', 'Bending Force', 'Trigger Signal'], loc='center',
               bbox_to_anchor=(fx(505), fy(y)), ncol=3, frameon=False, fontsize=12,
               handlelength=0.6, handletextpad=0.1, columnspacing=1.1)


# panel 1 frame
fig.patches.append(Rectangle((fx(12), fy(447)), fx(986), (447 - 15) / H, transform=fig.transFigure,
                             fill=False, edgecolor=GRID, linewidth=1))

draw_panel((75, 83, 952, 365), p1_axial, p1_bending, p1_trig_on, p1_trig_off, p1_split,
           (0, 15.75), (-8, 4), range(-8, 5, 2), range(0, 15, 2), 1.033, 4)
fig.text(fx(505), fy(31), 'Measurement of a 30º internal cone', ha='center', va='center', fontsize=13, color=TEXT)
fig.text(fx(325), fy(67), 'Continuous Touching', ha='center', va='center', fontsize=11.5, color=TEXT)
fig.text(fx(743), fy(67), 'Point to Point Touching', ha='center', va='center', fontsize=11.5, color=TEXT)
fig.text(fx(36), fy(224), 'Contact Force [N]', rotation=90, ha='center', va='center', fontsize=12, color=TEXT)
fig.text(fx(988), fy(224), 'Trigger status', rotation=90, ha='center', va='center', fontsize=12, color=TEXT)
fig.text(fx(503), fy(407), 'Time [s]', ha='center', va='center', fontsize=12, color=TEXT)
legend_at(432)

draw_panel((70, 488, 945, 808), p2_axial, p2_bending, p2_trig_on, p2_trig_off, p2_split,
           (0, 19.0), (-5, 2), range(-5, 3), range(0, 19, 2), 1.102, 2)
fig.text(fx(505), fy(464), 'Measurement of a horizontal plane with probe in 45º contact', ha='center',
         va='center', fontsize=13, color=TEXT)
fig.text(fx(276), fy(497), 'Continuous Touching', ha='center', va='center', fontsize=12, color=TEXT)
fig.text(fx(723), fy(497), 'Point to Point Touching', ha='center', va='center', fontsize=12, color=TEXT)
fig.text(fx(28), fy(648), 'Contact Force [N]', rotation=90, ha='center', va='center', fontsize=12, color=TEXT)
fig.text(fx(983), fy(648), 'Trigger Status', rotation=90, ha='center', va='center', fontsize=12, color=TEXT)
fig.text(fx(513), fy(855), 'Time [s]', ha='center', va='center', fontsize=12, color=TEXT)
legend_at(882)

draw_panel((80, 943, 944, 1258), p3_axial, p3_bending, p3_trig_on, p3_trig_off, p3_split,
           (2, 23.03), (-14, 2), range(-14, 3, 2), range(2, 23, 2), 1.103, 1.0)
fig.text(fx(505), fy(916), 'Measurement of a horizontal plane with probe in perpendicular contact (90º)',
         ha='center', va='center', fontsize=15.5, color=TEXT)
fig.text(fx(248), fy(955), 'Continuous Touching', ha='center', va='center', fontsize=12, color=TEXT)
fig.text(fx(693), fy(955), 'Point to Point Touching', ha='center', va='center', fontsize=12, color=TEXT)
fig.text(fx(29), fy(1100), 'Contact Force [N]', rotation=90, ha='center', va='center', fontsize=12, color=TEXT)
fig.text(fx(982), fy(1100), 'Trigger Status', rotation=90, ha='center', va='center', fontsize=12, color=TEXT)
fig.text(fx(500), fy(1305), 'Time [S]', ha='center', va='center', fontsize=12, color=TEXT)
legend_at(1332)

fig.savefig('out.png', dpi=100, facecolor='white')
